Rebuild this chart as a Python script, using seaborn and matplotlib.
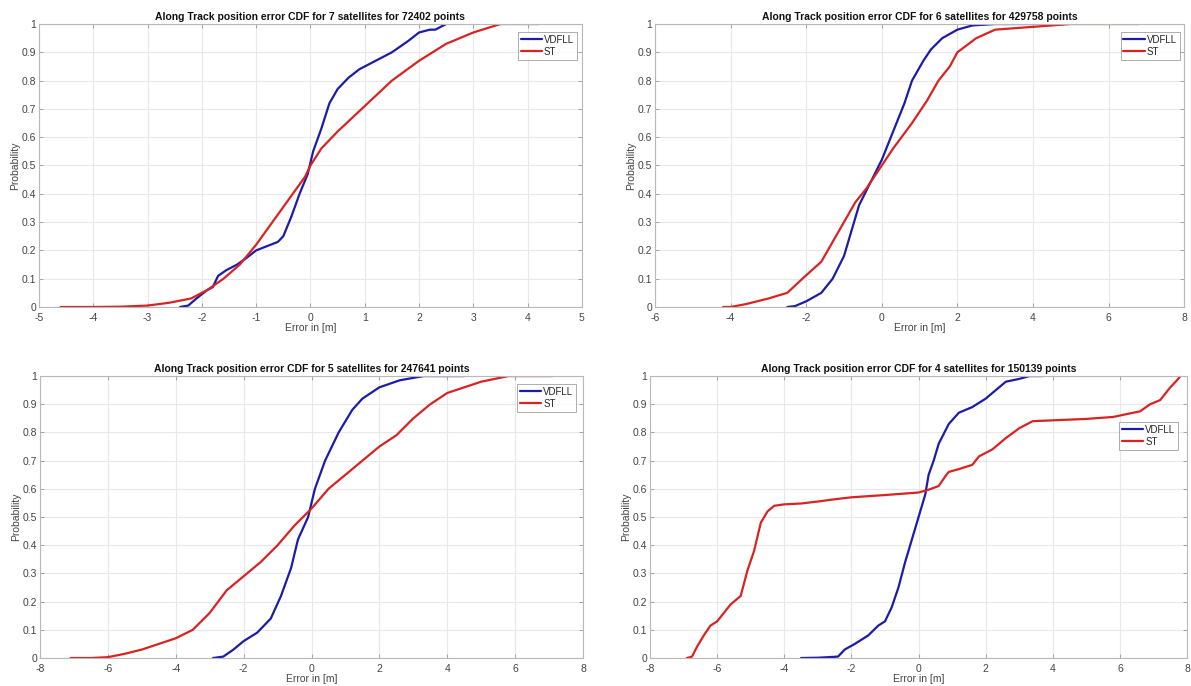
import matplotlib
matplotlib.use("Agg")
import matplotlib.pyplot as plt
import seaborn as sns
import numpy as np
import pandas as pd

# --- 7 satellites ---
x7_vdfll = [-2.4, -2.25, -2.1, -1.9, -1.8, -1.7, -1.55, -1.35, -1.2, -1.0, -0.8, -0.6, -0.5,
            -0.35, -0.2, -0.05, 0.05, 0.2, 0.35, 0.5, 0.7, 0.9, 1.2, 1.5, 1.8, 2.0, 2.2, 2.3, 2.4, 2.5]
p7_vdfll = [0.0, 0.005, 0.03, 0.06, 0.07, 0.11, 0.13, 0.15, 0.17, 0.2, 0.215, 0.23, 0.25,
            0.32, 0.4, 0.47, 0.55, 0.63, 0.72, 0.77, 0.81, 0.84, 0.87, 0.9, 0.94, 0.97, 0.98, 0.98, 0.99, 1.0]
x7_st = [-4.6, -4.0, -3.5, -3.0, -2.6, -2.2, -1.9, -1.6, -1.3, -1.0, -0.7, -0.4, -0.1, 0.0,
         0.2, 0.5, 1.0, 1.5, 2.0, 2.5, 3.0, 3.5, 4.2]
p7_st = [0.0, 0.0, 0.001, 0.005, 0.015, 0.03, 0.06, 0.1, 0.15, 0.22, 0.3, 0.38, 0.46, 0.5,
         0.56, 0.62, 0.71, 0.8, 0.87, 0.93, 0.97, 1.0, 1.0]

# --- 6 satellites ---
x6_vdfll = [-2.5, -2.3, -2.0, -1.6, -1.3, -1.0, -0.8, -0.6, -0.3, 0.0, 0.3, 0.6, 0.8, 1.1,
            1.3, 1.6, 2.0, 2.4, 3.0, 4.0]
p6_vdfll = [0.0, 0.003, 0.02, 0.05, 0.1, 0.18, 0.27, 0.36, 0.44, 0.52, 0.62, 0.72, 0.8, 0.87,
            0.91, 0.95, 0.98, 0.995, 1.0, 1.0]
x6_st = [-4.2, -4.0, -3.6, -3.0, -2.5, -2.1, -1.6, -1.3, -1.0, -0.7, -0.4, 0.0, 0.3, 0.8,
         1.2, 1.5, 1.8, 2.0, 2.5, 3.0, 4.0, 5.0, 6.8]
p6_st = [0.0, 0.0, 0.01, 0.03, 0.05, 0.1, 0.16, 0.23, 0.3, 0.37, 0.42, 0.5, 0.56, 0.65,
         0.73, 0.8, 0.85, 0.9, 0.95, 0.98, 0.99, 1.0, 1.0]

# --- 5 satellites ---
x5_vdfll = [-2.9, -2.6, -2.3, -2.0, -1.6, -1.2, -0.9, -0.6, -0.4, -0.1, 0.1, 0.4, 0.8, 1.2,
            1.5, 2.0, 2.6, 3.3, 4.5]
p5_vdfll = [0.0, 0.005, 0.03, 0.06, 0.09, 0.14, 0.22, 0.32, 0.42, 0.5, 0.6, 0.7, 0.8, 0.88,
            0.92, 0.96, 0.985, 1.0, 1.0]
x5_st = [-7.1, -6.5, -6.0, -5.5, -5.0, -4.5, -4.0, -3.5, -3.0, -2.5, -2.0, -1.5, -1.0, -0.5,
         0.0, 0.5, 1.0, 1.5, 2.0, 2.5, 3.0, 3.5, 4.0, 4.5, 5.0, 5.8, 7.1]
p5_st = [0.0, 0.0, 0.003, 0.015, 0.03, 0.05, 0.07, 0.1, 0.16, 0.24, 0.29, 0.34, 0.4, 0.47,
         0.53, 0.6, 0.65, 0.7, 0.75, 0.79, 0.85, 0.9, 0.94, 0.96, 0.98, 1.0, 1.0]

# --- 4 satellites ---
x4_vdfll = [-3.5, -3.0, -2.4, -2.2, -1.9, -1.5, -1.2, -1.0, -0.8, -0.6, -0.4, -0.2, 0.0, 0.2,
            0.3, 0.45, 0.6, 0.9, 1.2, 1.6, 2.0, 2.3, 2.6, 3.0, 3.3, 3.7]
p4_vdfll = [0.0, 0.001, 0.005, 0.03, 0.05, 0.08, 0.115, 0.13, 0.18, 0.25, 0.34, 0.42, 0.5, 0.58,
            0.65, 0.7, 0.76, 0.83, 0.87, 0.89, 0.92, 0.95, 0.98, 0.99, 1.0, 1.0]
x4_st = [-6.9, -6.75, -6.6, -6.4, -6.2, -6.0, -5.8, -5.6, -5.3, -5.1, -4.9, -4.7, -4.5, -4.3,
         -4.0, -3.5, -3.0, -2.5, -2.0, -1.0, 0.0, 0.3, 0.6, 0.8, 0.9, 1.2, 1.6, 1.8, 2.2, 2.6,
         3.0, 3.4, 4.0, 5.0, 5.8, 6.2, 6.6, 6.9, 7.2, 7.5, 7.7, 7.8]
p4_st = [0.0, 0.005, 0.04, 0.08, 0.115, 0.13, 0.16, 0.19, 0.22, 0.31, 0.38, 0.48, 0.52, 0.54,
         0.545, 0.548, 0.555, 0.563, 0.57, 0.578, 0.587, 0.597, 0.61, 0.645, 0.66, 0.67, 0.685,
         0.715, 0.74, 0.78, 0.815, 0.84, 0.843, 0.848, 0.855, 0.865, 0.875, 0.9, 0.915, 0.96,
         0.985, 1.0]

y_ticks = [0, 0.1, 0.2, 0.3, 0.4, 0.5, 0.6, 0.7, 0.8, 0.9, 1]
y_labels = ["0", "0.1", "0.2", "0.3", "0.4", "0.5", "0.6", "0.7", "0.8", "0.9", "1"]

panels = [
    dict(n=7, pts=72402, vd=(x7_vdfll, p7_vdfll), st=(x7_st, p7_st), xlim=(-5, 5), step=1,
         pos=[0.0327, 0.5525, 0.4559, 0.4125], leg=(0.991, 0.972)),
    dict(n=6, pts=429758, vd=(x6_vdfll, p6_vdfll), st=(x6_st, p6_st), xlim=(-6, 8), step=2,
         pos=[0.5500, 0.5525, 0.4442, 0.4125], leg=(0.992, 0.972)),
    dict(n=5, pts=247641, vd=(x5_vdfll, p5_vdfll), st=(x5_st, p5_st), xlim=(-8, 8), step=2,
         pos=[0.0336, 0.0408, 0.4559, 0.4110], leg=(0.988, 0.972)),
    dict(n=4, pts=150139, vd=(x4_vdfll, p4_vdfll), st=(x4_st, p4_st), xlim=(-8, 8), step=2,
         pos=[0.5458, 0.0408, 0.4509, 0.4110], leg=(0.984, 0.838)),
]

sns.set_theme(style="whitegrid")
plt.rcParams['font.family'] = ['Liberation Sans', 'DejaVu Sans']
plt.rcParams['axes.unicode_minus'] = False

fig = plt.figure(figsize=(11.91, 6.86), dpi=100)
fig.patch.set_facecolor("white")

for p in panels:
    ax = fig.add_axes(p["pos"])
    df = pd.concat([
        pd.DataFrame({"err": p["vd"][0], "prob": p["vd"][1], "method": "VDFLL"}),
        pd.DataFrame({"err": p["st"][0], "prob": p["st"][1], "method": "ST"}),
    ])
    sns.lineplot(data=df, x="err", y="prob", hue="method", sort=False, ax=ax,
                 palette={"VDFLL": "#1c1ca8", "ST": "#d92323"}, linewidth=1.6,
                 estimator=None)

    ax.set_xlim(*p["xlim"])
    ax.set_ylim(0, 1)
    ax.set_xticks(np.arange(p["xlim"][0], p["xlim"][1] + 0.1, p["step"]))
    ax.set_yticks(y_ticks)
    ax.set_yticklabels(y_labels)
    ax.set_facecolor("white")
    ax.grid(True, color="#e8e8e8", linewidth=0.8)
    for s in ax.spines.values():
        s.set_color("#b8b8b8")
        s.set_linewidth(0.8)
    ax.tick_params(direction="in", length=3, width=0.6, color="#999999",
                   labelsize=7.5, labelcolor="#444444", pad=2,
                   top=True, right=True, bottom=True, left=True)
    ax.tick_params(axis="x", pad=4)
    ax.set_xlabel("Error in [m]", fontsize=7.5, color="#444444", labelpad=0)
    ax.set_ylabel("Probability", fontsize=7.5, color="#444444", labelpad=1)
    ax.set_title(f"Along Track position error CDF for {p['n']} satellites for {p['pts']} points",
                 fontsize=7.5, fontweight="bold", color="#111111", pad=3)
    leg = ax.legend(loc="upper right", bbox_to_anchor=p["leg"], borderaxespad=0,
                    fontsize=7, frameon=True, fancybox=False, handlelength=2.2,
                    handletextpad=0.2, borderpad=0.3, labelspacing=0.2, title=None)
    leg.get_frame().set_edgecolor("#888888")
    leg.get_frame().set_linewidth(0.6)

fig.savefig("out.png", dpi=100, facecolor="white")
